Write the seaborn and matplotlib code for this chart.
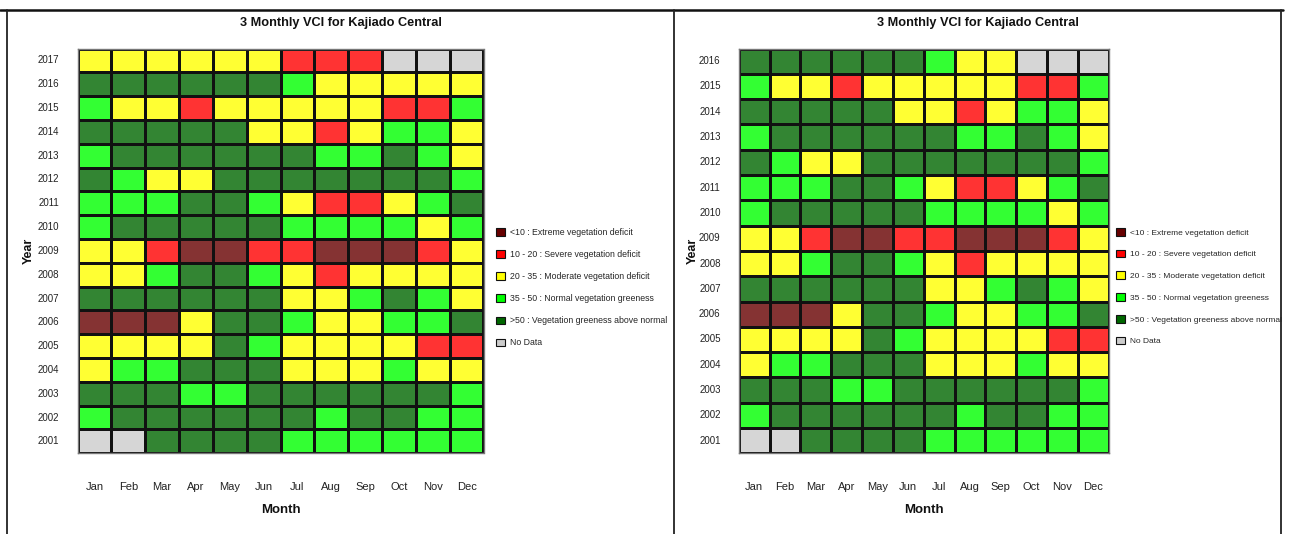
import matplotlib
matplotlib.use("Agg")
import numpy as np
import pandas as pd
import matplotlib.pyplot as plt
from matplotlib.colors import ListedColormap, to_rgb
from matplotlib.patches import Patch
from matplotlib.lines import Line2D
import seaborn as sns

sns.set_style("white")
plt.rcParams["font.family"] = ["Liberation Sans", "DejaVu Sans"]

# ---- data -----------------------------------------------------------------
months = ["Jan", "Feb", "Mar", "Apr", "May", "Jun",
          "Jul", "Aug", "Sep", "Oct", "Nov", "Dec"]

# VCI class per month: N no data, X <10, R 10-20, Y 20-35, L 35-50, D >50
class_codes = ["N", "X", "R", "Y", "L", "D"]
class_labels = ["No Data",
                "<10 : Extreme vegetation deficit",
                "10 - 20 : Severe vegetation deficit",
                "20 - 35 : Moderate vegetation deficit",
                "35 - 50 : Normal vegetation greeness",
                ">50 : Vegetation greeness above normal"]
class_colors = ["#cccccc", "#660000", "#ff0000", "#ffff00", "#00ff00", "#006600"]
legend_order = [1, 2, 3, 4, 5, 0]

years_a = [2017, 2016, 2015, 2014, 2013, 2012, 2011, 2010, 2009,
           2008, 2007, 2006, 2005, 2004, 2003, 2002, 2001]
vci_a = ["YYYYYYRRRNNN",
         "DDDDDDLYYYYY",
         "LYYRYYYYYRRL",
         "DDDDDYYRYLLY",
         "LDDDDDDLLDLY",
         "DLYYDDDDDDDL",
         "LLLDDLYRRYLD",
         "LDDDDDLLLLYL",
         "YYRXXRRXXXRY",
         "YYLDDLYRYYYY",
         "DDDDDDYYLDLY",
         "XXXYDDLYYLLD",
         "YYYYDLYYYYRR",
         "YLLDDDYYYLYY",
         "DDDLLDDDDDDL",
         "LDDDDDDLDDLL",
         "NNDDDDLLLLLL"]

years_b = [2016, 2015, 2014, 2013, 2012, 2011, 2010, 2009,
           2008, 2007, 2006, 2005, 2004, 2003, 2002, 2001]
vci_b = ["DDDDDDLYYNNN",
         "LYYRYYYYYRRL",
         "DDDDDYYRYLLY",
         "LDDDDDDLLDLY",
         "DLYYDDDDDDDL",
         "LLLDDLYRRYLD",
         "LDDDDDLLLLYL",
         "YYRXXRRXXXRY",
         "YYLDDLYRYYYY",
         "DDDDDDYYLDLY",
         "XXXYDDLYYLLD",
         "YYYYDLYYYYRR",
         "YLLDDDYYYLYY",
         "DDDLLDDDDDDL",
         "LDDDDDDLDDLL",
         "NNDDDDLLLLLL"]

title = "3 Monthly VCI for Kajiado Central"

# ---- styling --------------------------------------------------------------
def soften(color, alpha=0.8):
    r, g, b = to_rgb(color)
    return (1 - alpha + alpha * r, 1 - alpha + alpha * g, 1 - alpha + alpha * b)

cell_cmap = ListedColormap([soften(c) for c in class_colors])

W, H = 1289, 534
fig = plt.figure(figsize=(W / 100, H / 100), dpi=100)


def px_axes(x0, y0, x1, y1):
    return fig.add_axes([x0 / W, 1 - y1 / H, (x1 - x0) / W, (y1 - y0) / H])


def draw_panel(ax, years, rows, panel_center, legend_x, legend_size, ylabel_x):
    grid = pd.DataFrame([[class_codes.index(c) for c in row] for row in rows],
                        index=years, columns=months)
    sns.heatmap(grid, ax=ax, cmap=cell_cmap, vmin=-0.5, vmax=5.5, cbar=False,
                linewidths=1.0, linecolor="#111111", square=False,
                xticklabels=months, yticklabels=years)
    for s in ax.spines.values():
        s.set_visible(True)
        s.set_color("#777777")
        s.set_linewidth(1.0)
    ax.tick_params(axis="both", length=0, colors="#222222")
    ax.tick_params(axis="x", pad=21, labelrotation=0, labelsize=8)
    ax.tick_params(axis="y", pad=13, labelrotation=0, labelsize=7)
    ax.set_xlabel("Month", fontsize=9.5, fontweight="bold", color="#111111")
    ax.set_ylabel("Year", fontsize=9, fontweight="bold", color="#111111", va="center")
    ax.xaxis.set_label_coords(0.5, -0.125)
    ax.yaxis.set_label_coords(ylabel_x, 0.5)
    fig.text(panel_center / W, 1 - 23 / H, title, ha="center", va="center",
             fontsize=9.2, fontweight="bold", color="#111111")
    handles = [Patch(facecolor=class_colors[i], edgecolor="#111111", linewidth=0.8)
               for i in legend_order]
    labels = [class_labels[i] for i in legend_order]
    spacing = 1.45 * 6.5 / legend_size
    ax.legend(handles, labels, loc="upper left",
              bbox_to_anchor=(legend_x / W, 1 - 228 / H),
              bbox_transform=fig.transFigure, frameon=False, fontsize=legend_size,
              handlelength=0.95 * 6.5 / legend_size,
              handleheight=0.95 * 6.5 / legend_size,
              handletextpad=0.6 * 6.5 / legend_size,
              labelspacing=spacing, borderpad=0, borderaxespad=0)


ax_a = px_axes(77.5, 48.5, 483.5, 453.3)
draw_panel(ax_a, years_a, vci_a, 341, 496, 6.3, -0.121)

ax_b = px_axes(738.7, 48.5, 1108.7, 453.3)
draw_panel(ax_b, years_b, vci_b, 978, 1116, 6.0, -0.123)

# panel frames
frame_kw = dict(transform=fig.transFigure, color="#222222", linewidth=1.3)
fig.add_artist(Line2D([0, 1283 / W], [1 - 9.5 / H] * 2, color="#111111",
                      linewidth=1.8, transform=fig.transFigure))
for xp in (6.5, 674, 1281):
    fig.add_artist(Line2D([xp / W] * 2, [0, 1 - 9.5 / H], **frame_kw))

fig.savefig("out.png", dpi=100, facecolor="white")
